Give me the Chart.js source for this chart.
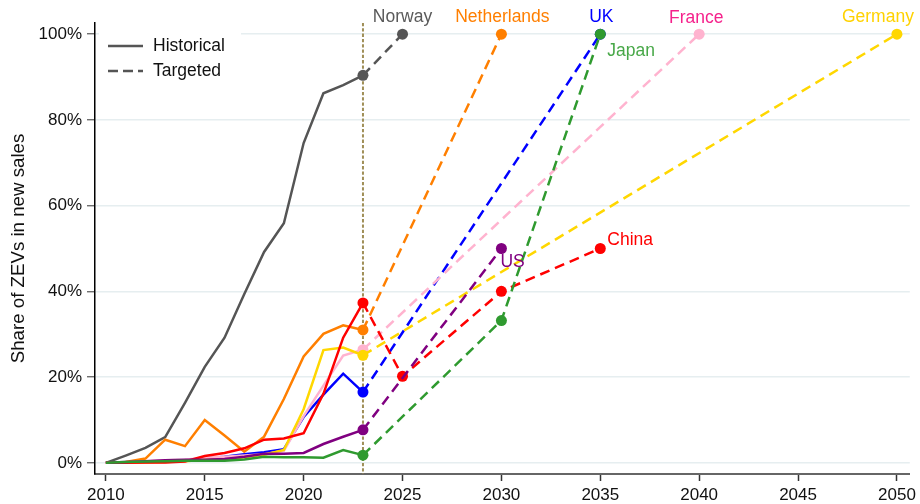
<!DOCTYPE html>
<html>
<head>
<meta charset="utf-8">
<script src="https://cdn.jsdelivr.net/npm/chart.js@4.4.0/dist/chart.umd.min.js"></script>
<style>
  html, body { margin: 0; padding: 0; background: #fff; }
  #chart { display: block; }
</style>
</head>
<body>
<canvas id="chart" width="920" height="504"></canvas>
<script>
// historical shares (% of new sales), 2010-2023
const histYears = [2010, 2011, 2012, 2013, 2014, 2015, 2016, 2017, 2018, 2019, 2020, 2021, 2022, 2023];
const norway = [0, 1.7, 3.5, 6.0, 14.0, 22.4, 29.2, 39.4, 49.2, 55.9, 74.6, 86.2, 88.1, 90.4];
const netherlands = [0, 0.2, 1.0, 5.4, 3.9, 10.0, 6.4, 2.6, 6.1, 14.9, 24.8, 30.1, 32.1, 31.0];
const uk = [0, 0.1, 0.2, 0.3, 0.5, 1.0, 1.4, 2.0, 2.5, 3.2, 10.7, 15.9, 20.8, 16.5];
const france = [0, 0.1, 0.4, 0.6, 0.7, 1.2, 1.4, 1.7, 2.0, 2.8, 10.9, 18.0, 25.0, 26.4];
const germany = [0, 0, 0.1, 0.2, 0.4, 0.7, 0.7, 1.3, 1.9, 3.0, 12.5, 26.3, 26.9, 25.1];
const japan = [0, 0.2, 0.3, 0.4, 0.5, 0.5, 0.5, 0.8, 1.4, 1.3, 1.3, 1.2, 3.0, 1.8];
const china = [0, 0, 0.1, 0.1, 0.3, 1.6, 2.3, 3.4, 5.4, 5.7, 6.9, 16.1, 29.2, 37.3];
const us = [0, 0.2, 0.4, 0.6, 0.7, 0.7, 0.9, 1.4, 2.1, 2.1, 2.3, 4.4, 6.1, 7.7];

// targets
const norwayGoalYears = [2025];
const norwayGoals = [100];
const netherlandsGoalYears = [2030];
const netherlandsGoals = [100];
const ukGoalYears = [2035];
const ukGoals = [100];
const franceGoalYears = [2040];
const franceGoals = [100];
const germanyGoalYears = [2050];
const germanyGoals = [100];
const japanGoalYears = [2030, 2035];
const japanGoals = [33.2, 100];
const chinaGoalYears = [2025, 2030, 2035];
const chinaGoals = [20.2, 40, 50];
const usGoalYears = [2030];
const usGoals = [50];

const refYear = 2023;
const xTicks = [2010, 2015, 2020, 2025, 2030, 2035, 2040, 2045, 2050];
const yTicks = [0, 20, 40, 60, 80, 100];
const legendLabels = ["Historical", "Targeted"];

// first in list is drawn on top
const countries = [
  { name: "Japan", hist: japan, goalYears: japanGoalYears, goals: japanGoals },
  { name: "US", hist: us, goalYears: usGoalYears, goals: usGoals },
  { name: "China", hist: china, goalYears: chinaGoalYears, goals: chinaGoals },
  { name: "Germany", hist: germany, goalYears: germanyGoalYears, goals: germanyGoals },
  { name: "France", hist: france, goalYears: franceGoalYears, goals: franceGoals },
  { name: "UK", hist: uk, goalYears: ukGoalYears, goals: ukGoals },
  { name: "Netherlands", hist: netherlands, goalYears: netherlandsGoalYears, goals: netherlandsGoals },
  { name: "Norway", hist: norway, goalYears: norwayGoalYears, goals: norwayGoals },
];

const styles = {
  Norway: { line: "#555555", text: "#5a5a5a", dx: 0, dy: -17, align: "center" },
  Netherlands: { line: "#ff7f00", text: "#ff7f00", dx: 1, dy: -17, align: "center" },
  UK: { line: "#0000ff", text: "#0000ff", dx: 1, dy: -17, align: "center" },
  France: { line: "#ffb3cf", text: "#f5218b", dx: -3, dy: -16, align: "center" },
  Germany: { line: "#ffd700", text: "#ffd200", dx: -19, dy: -17, align: "center" },
  Japan: { line: "#2f9a2f", text: "#48a848", dx: 7, dy: 17, align: "left" },
  China: { line: "#ff0000", text: "#ff0000", dx: 7, dy: -8, align: "left" },
  US: { line: "#800080", text: "#800080", dx: -1, dy: 14, align: "left" },
};

const FONT = "'Liberation Sans', Arial, Helvetica, sans-serif";
Chart.defaults.font.family = FONT;
Chart.defaults.color = "#111";

const datasets = [];
for (const c of countries) {
  const color = styles[c.name].line;
  const last = c.hist[c.hist.length - 1];
  const targetPoints = [{ x: histYears[histYears.length - 1], y: last }].concat(
    c.goalYears.map((yr, i) => ({ x: yr, y: c.goals[i] }))
  );
  datasets.push({
    label: c.name + " target",
    data: targetPoints,
    borderColor: color,
    backgroundColor: color,
    borderWidth: 2.5,
    borderDash: [10, 6],
    pointRadius: 5.5,
    pointBorderWidth: 0,
    pointBackgroundColor: color,
  });
  datasets.push({
    label: c.name,
    data: histYears.map((yr, i) => ({ x: yr, y: c.hist[i] })),
    borderColor: color,
    backgroundColor: color,
    borderWidth: 2.5,
    pointRadius: 0,
  });
}

const refLine = {
  id: "refLine",
  beforeDatasetsDraw(chart) {
    const { ctx, chartArea, scales } = chart;
    const x = scales.x.getPixelForValue(refYear);
    ctx.save();
    ctx.strokeStyle = "#a08f58";
    ctx.lineWidth = 2;
    ctx.setLineDash([3.3, 2]);
    ctx.beginPath();
    ctx.moveTo(x, chartArea.top);
    ctx.lineTo(x, chartArea.bottom);
    ctx.stroke();
    ctx.restore();
  },
};

const legendBox = {
  id: "legendBox",
  beforeDatasetsDraw(chart) {
    const { ctx } = chart;
    ctx.save();
    ctx.fillStyle = "#fff";
    ctx.fillRect(99, 28, 142, 58);
    legendLabels.forEach((txt, i) => {
      const y = 46 + i * 25;
      ctx.strokeStyle = "#555";
      ctx.lineWidth = 2.5;
      ctx.setLineDash(i === 0 ? [] : [10, 5]);
      ctx.beginPath();
      ctx.moveTo(108, y);
      ctx.lineTo(143, y);
      ctx.stroke();
      ctx.fillStyle = "#111";
      ctx.font = "17.5px " + FONT;
      ctx.textBaseline = "middle";
      ctx.fillText(txt, 153, y);
    });
    ctx.restore();
  },
};

const endLabels = {
  id: "endLabels",
  afterDatasetsDraw(chart) {
    const { ctx, scales } = chart;
    ctx.save();
    ctx.font = "17.5px " + FONT;
    ctx.textBaseline = "middle";
    for (const c of countries) {
      const s = styles[c.name];
      const n = c.goals.length - 1;
      const px = scales.x.getPixelForValue(c.goalYears[n]);
      const py = scales.y.getPixelForValue(c.goals[n]);
      ctx.fillStyle = s.text;
      ctx.textAlign = s.align;
      ctx.fillText(c.name, px + s.dx, py + s.dy);
    }
    ctx.restore();
  },
};

new Chart(document.getElementById("chart"), {
  type: "line",
  data: { datasets },
  options: {
    responsive: false,
    animation: false,
    devicePixelRatio: 1,
    layout: { padding: { top: 23, right: 10, bottom: 0, left: 0 } },
    plugins: { legend: { display: false }, tooltip: { enabled: false } },
    elements: { line: { tension: 0 } },
    scales: {
      x: {
        type: "linear",
        min: 2009.45,
        max: 2050.65,
        afterFit: (scale) => { scale.height = 30; },
        afterBuildTicks: (scale) => { scale.ticks = xTicks.map((v) => ({ value: v })); },
        grid: { drawOnChartArea: false, drawTicks: true, tickLength: 7, tickColor: "#333", tickWidth: 1.5 },
        border: { color: "#666", width: 2 },
        ticks: { font: { size: 17 }, color: "#111", padding: 4, maxRotation: 0, callback: (v) => String(v) },
      },
      y: {
        min: -2.6,
        max: 102.6,
        afterFit: (scale) => { scale.width = 95; },
        afterBuildTicks: (scale) => { scale.ticks = yTicks.map((v) => ({ value: v })); },
        grid: { color: "#e6eef0", lineWidth: 1.5, tickLength: 8, tickColor: "#555", tickWidth: 1.2 },
        border: { color: "#000", width: 1.5 },
        ticks: { font: { size: 17 }, color: "#111", padding: 5, callback: (v) => v + "%" },
        title: {
          display: true,
          text: "Share of ZEVs in new sales",
          font: { size: 18.7 },
          color: "#111",
          padding: { top: 8, bottom: 0 },
        },
      },
    },
  },
  plugins: [refLine, legendBox, endLabels],
});
</script>
</body>
</html>
